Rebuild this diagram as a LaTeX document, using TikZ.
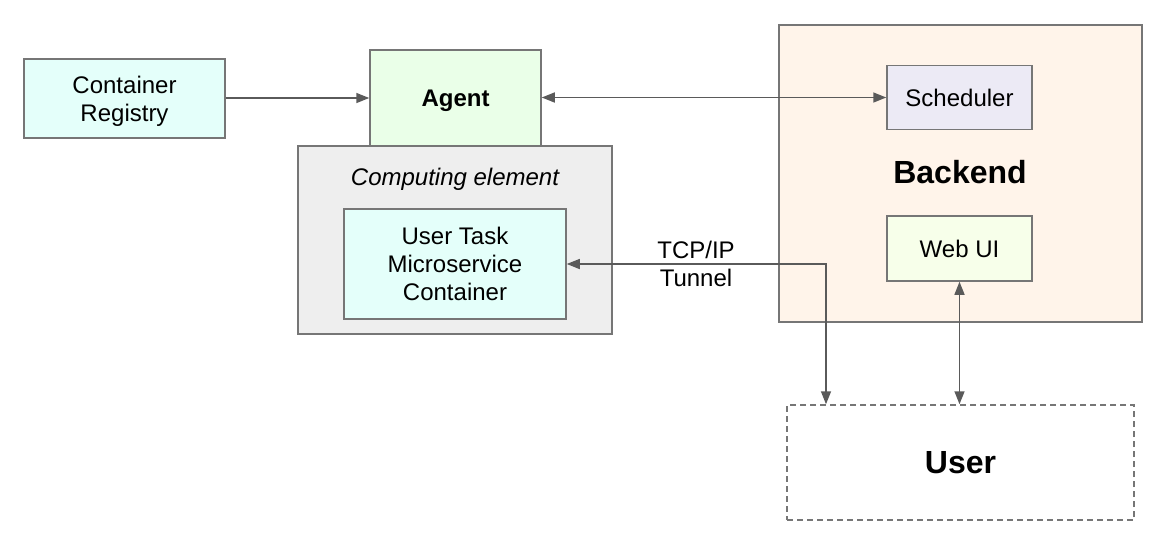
\documentclass[tikz,border=0pt]{standalone}
\usepackage{fontspec}
\setmainfont{Liberation Sans}
\usetikzlibrary{arrows.meta}
\definecolor{cyanfill}{RGB}{228,255,250}
\definecolor{agentfill}{RGB}{234,255,232}
\definecolor{compfill}{RGB}{238,238,238}
\definecolor{backfill}{RGB}{255,244,234}
\definecolor{schedfill}{RGB}{236,234,245}
\definecolor{webfill}{RGB}{247,255,234}
\definecolor{bordercol}{RGB}{118,118,118}
\definecolor{arrcol}{RGB}{90,90,90}
\tikzset{
  tip/.tip={Triangle[length=13pt,width=10pt]},
  box/.style={draw=bordercol, line width=1.5pt, inner sep=0pt, align=center,
    text depth=0pt, font=\fontsize{24}{28}\selectfont},
  conn/.style={draw=arrcol, line width=1.5pt, -tip},
  conn2/.style={draw=arrcol, line width=1.5pt, tip-tip},
  lbl/.style={align=center, inner sep=0pt, text depth=0pt, font=\fontsize{24}{28}\selectfont},
}
\begin{document}
\begin{tikzpicture}[x=1pt,y=-1pt]
\useasboundingbox (0,0) rectangle (1167,550);
% left side
\node[box, fill=cyanfill, minimum width=201pt, minimum height=79pt] (reg) at (124.5,98.5) {Container\\Registry};
\node[box, fill=compfill, minimum width=314pt, minimum height=188pt] (comp) at (455,240) {};
\node[lbl, font=\fontsize{24}{28}\selectfont\itshape] (complbl) at (455,177) {Computing element};
\node[box, fill=agentfill, minimum width=171pt, minimum height=96pt, font=\fontsize{24}{28}\selectfont\bfseries] (agent) at (455.5,98) {Agent};
\node[box, fill=cyanfill, minimum width=222pt, minimum height=110pt] (task) at (455,264) {User Task\\Microservice\\Container};
% backend
\node[box, fill=backfill, minimum width=363pt, minimum height=297pt] (back) at (960.5,173.5) {};
\node[lbl, font=\fontsize{32}{36}\selectfont\bfseries] (backlbl) at (960,172) {Backend};
\node[box, fill=schedfill, minimum width=145pt, minimum height=64pt] (sched) at (959.5,97.5) {Scheduler};
\node[box, fill=webfill, minimum width=145pt, minimum height=65pt] (web) at (959.5,248.5) {Web UI};
% user
\node[box, dashed, dash pattern=on 6pt off 4pt, minimum width=347pt, minimum height=115pt, font=\fontsize{32}{36}\selectfont\bfseries] (user) at (960.5,462.5) {User};
% connectors
\draw[conn] (reg.east |- 0,98) -- (agent.west |- 0,98);
\draw[conn2] (agent.east |- 0,97.5) -- (sched.west);
\coordinate (bend) at (826,264);
\draw[conn2] (task.east) -- (bend) -- (user.north -| bend);
\draw[conn2] (web.south) -- (user.north -| web.south);
\node[lbl] (tcp) at (696,264) {TCP/IP\\Tunnel};
\end{tikzpicture}
\end{document}
